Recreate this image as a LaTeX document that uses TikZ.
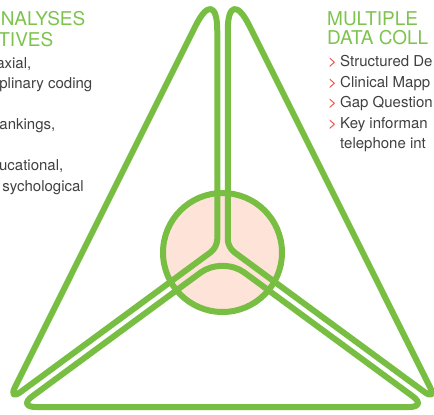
\documentclass[tikz,border=0pt]{standalone}
\usepackage{fontspec}
\setmainfont{TeX Gyre Heros}
\usetikzlibrary{positioning}
\definecolor{leafgreen}{RGB}{119,190,67}
\definecolor{headgreen}{RGB}{125,195,78}
\definecolor{blush}{RGB}{253,227,216}
\definecolor{bodygray}{RGB}{64,64,64}
\definecolor{tipred}{RGB}{238,66,52}
\tikzset{
  petal/.style={draw=leafgreen, line width=6pt, line join=round},
  hub/.style={draw=leafgreen, fill=blush, line width=6pt},
  heading/.style={font=\fontsize{19}{20}\selectfont, text=headgreen, inner sep=0pt},
  bodyline/.style={font=\fontsize{15}{20.5}\selectfont, text=bodygray, inner sep=0pt},
  arrowmark/.style={font=\fontsize{15}{20.5}\selectfont, text=tipred, inner sep=0pt},
}

\begin{document}
\begin{tikzpicture}[x=1pt,y=-1pt]
  \useasboundingbox (0,0) rectangle (434,415);
  \clip (0,0) rectangle (434,415);

  % corner points of the three petals
  \coordinate (topL) at (217.25,-17.5);
  \coordinate (innL) at (217.25,247.4);
  \coordinate (botL) at (7.9,401.3);
  \coordinate (topR) at (227.75,-17.5);
  \coordinate (innR) at (227.75,247.4);
  \coordinate (botR) at (437.1,401.3);
  \coordinate (tipB) at (222.5,256.5);
  \coordinate (leftB) at (17.7,407);
  \coordinate (rightB) at (427.3,407);

  % hub in the middle
  \draw[hub] (222.5,252.5) circle (59.5);

  % left petal (corner values are cut lengths along the sides)
  \draw[petal] (108.5,200) [rounded corners=48pt] -- (topL)
        [rounded corners=8pt] -- (innL) [rounded corners=16pt] -- (botL)
        [sharp corners] -- cycle;
  % right petal
  \draw[petal] (336.5,200) [rounded corners=48pt] -- (topR)
        [rounded corners=8pt] -- (innR) [rounded corners=16pt] -- (botR)
        [sharp corners] -- cycle;
  % bottom petal
  \draw[petal] (222.5,407) [rounded corners=18pt] -- (leftB)
        [rounded corners=27pt] -- (tipB) [rounded corners=18pt] -- (rightB)
        [sharp corners] -- cycle;

  % text on the left
  \node[heading, anchor=base east] (analyses) at (85.5,25) {NALYSES};
  \node[heading, anchor=base east] (tives) at (53.5,46) {TIVES};
  \node[bodyline, anchor=base east] (axial) at (31.5,68) {axial,};
  \node[bodyline, anchor=base east] (coding) at (92.5,88.5) {plinary coding};
  \node[bodyline, anchor=base east] (rankings) at (55.5,129.5) {ankings,};
  \node[bodyline, anchor=base east] (educ) at (63.5,170.5) {ucational,};
  \node[bodyline, anchor=base east] (psych) at (84,191) {sychological};

  % text on the right
  \node[heading, anchor=base west] (multi) at (327,25) {MULTIPLE};
  \node[heading, anchor=base west] (datacoll) at (327,45) {DATA COLL};
  \foreach \txt [count=\i] in {Structured De, Clinical Mapp, Gap Question, Key informan} {
    \node[bodyline, anchor=base west] (item\i) at (340,46+20.5*\i) {\txt};
    \node[arrowmark, anchor=base west] (mark\i) at (328,46+20.5*\i) {>};
  }
  \node[bodyline, anchor=base west] (phone) at (340,148.5) {telephone int};
\end{tikzpicture}
\end{document}
